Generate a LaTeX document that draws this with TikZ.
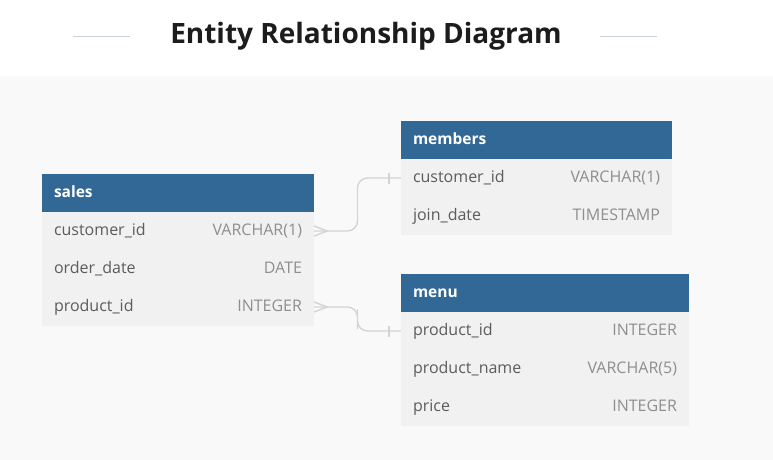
\documentclass[tikz,border=0pt]{standalone}
\usepackage{fontspec}
\setmainfont{Open Sans}
\usetikzlibrary{calc}
\definecolor{headblue}{HTML}{326896}
\definecolor{rowgray}{HTML}{F1F1F1}
\definecolor{bggray}{HTML}{F9F9F9}
\definecolor{fieldtxt}{HTML}{5C5C5C}
\definecolor{typetxt}{HTML}{8E8E8E}
\definecolor{linkgray}{HTML}{D4D4D4}
\definecolor{rulegray}{HTML}{C8D2DC}
\definecolor{titletxt}{HTML}{1C1C1C}
\newcommand\ercol[2]{{\color{fieldtxt}#1}\hfill{\color{typetxt}#2}}

\begin{document}
\begin{tikzpicture}[x=1pt,y=-1pt,
	tabhead/.style={fill=headblue, text=white, font=\bfseries\fontsize{15.5}{18}\selectfont,
		minimum height=38pt, inner xsep=12pt, inner ysep=0pt, text height=11.5pt, text depth=3.5pt,
		text width=#1, align=left},
	tabrow/.style={fill=rowgray, font=\fontsize{16}{19}\selectfont,
		minimum height=38pt, inner xsep=12pt, inner ysep=0pt, text height=11.5pt, text depth=3.5pt,
		text width=#1, align=left},
	link/.style={draw=linkgray, line width=1.4pt}]
		%%%%% START %%%%%
		
		\fill[white] (0, 0) rectangle (773, 76);
		\fill[bggray] (0, 76) rectangle (773, 460);
		\useasboundingbox (0, 0) rectangle (773, 460);
		
		\node[font=\bfseries\fontsize{28}{32}\selectfont, text=titletxt] (title) at (366, 36) {Entity Relationship Diagram};
		\draw[rulegray, line width=0.8pt] (73, 36) -- (130, 36);
		\draw[rulegray, line width=0.8pt] (600, 36) -- (657, 36);
		
		% sales
		\node[tabhead=248pt] (sales) at (178, 193) {sales};
		\node[tabrow=248pt] (sales-cust) at (178, 231) {\ercol{customer\_id}{VARCHAR(1)}};
		\node[tabrow=248pt] (sales-date) at (178, 269) {\ercol{order\_date}{DATE}};
		\node[tabrow=248pt] (sales-prod) at (178, 307) {\ercol{product\_id}{INTEGER}};
		
		% members
		\node[tabhead=247pt] (members) at (536.5, 140) {members};
		\node[tabrow=247pt] (members-cust) at (536.5, 178) {\ercol{customer\_id}{VARCHAR(1)}};
		\node[tabrow=247pt] (members-join) at (536.5, 216) {\ercol{join\_date}{TIMESTAMP}};
		
		% menu
		\node[tabhead=264pt] (menu) at (545, 293) {menu};
		\node[tabrow=264pt] (menu-prod) at (545, 331) {\ercol{product\_id}{INTEGER}};
		\node[tabrow=264pt] (menu-name) at (545, 369) {\ercol{product\_name}{VARCHAR(5)}};
		\node[tabrow=264pt] (menu-price) at (545, 407) {\ercol{price}{INTEGER}};
		
		% sales.customer_id >--| members.customer_id
		\draw[link, rounded corners=10pt] (sales-cust.east) -| ($(sales-cust.east)!.5!(members-cust.west)$) |- (members-cust.west);
		\draw[link] ($(sales-cust.east)+(0,-5)$) -- ($(sales-cust.east)+(13,0)$) -- ($(sales-cust.east)+(0,5)$);
		\draw[link] ($(members-cust.west)+(-12,-5.5)$) -- ($(members-cust.west)+(-12,5.5)$);
		
		% sales.product_id >--| menu.product_id
		\draw[link, rounded corners=10pt] (sales-prod.east) -| ($(sales-prod.east)!.5!(menu-prod.west)$) |- (menu-prod.west);
		\draw[link] ($(sales-prod.east)+(0,-5)$) -- ($(sales-prod.east)+(13,0)$) -- ($(sales-prod.east)+(0,5)$);
		\draw[link] ($(menu-prod.west)+(-12,-5.5)$) -- ($(menu-prod.west)+(-12,5.5)$);
		
		%%%%% END %%%%%
\end{tikzpicture}
\end{document}
